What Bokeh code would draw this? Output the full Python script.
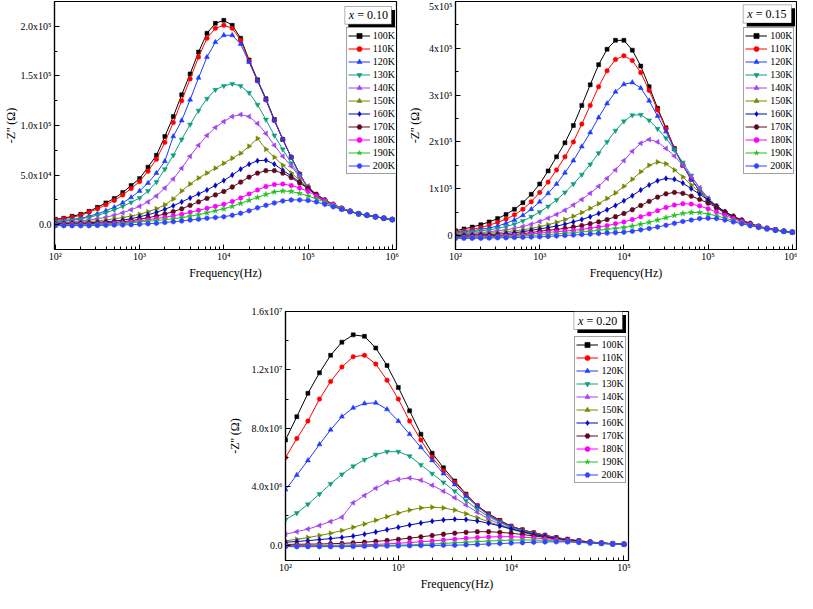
from bokeh.plotting import figure
from bokeh.models import (FixedTicker, Legend, LegendItem, Label, BoxAnnotation,
                          Range1d, Spacer, ColumnDataSource)
from bokeh.layouts import column, row
from bokeh.embed import file_html
from bokeh.resources import INLINE

FONT = "Liberation Serif"

# ---------------- data ----------------
FREQ = [100, 126, 158, 200, 251, 316, 398, 501, 631, 794,
        1000, 1259, 1585, 1995, 2512, 3162, 3981, 5012, 6310, 7943,
        10000, 12589, 15849, 19953, 25119, 31623, 39811, 50119, 63096, 79433,
        100000, 125893, 158489, 199526, 251189, 316228, 398107, 501187, 630957, 794328,
        1000000]
FREQ_C = FREQ[:31]

TEMPS = ["100K", "110K", "120K", "130K", "140K", "150K", "160K", "170K", "180K", "190K", "200K"]
COLORS = ["#000000", "#FF0000", "#1E3CFF", "#0E9E7E", "#A444EE", "#778800",
          "#0008C0", "#5E0A1E", "#FF00FF", "#22C022", "#3344FF"]
MARKERS = ["square", "circle", "triangle", "inverted_triangle", "triangle", "triangle",
           "diamond", "hex", "circle", "star", "hex"]
ANGLES = [0, 0, 0, 0, 1.5708, -1.5708, 0, 0, 0, 0, 0.5236]
SIZES = [4, 4.5, 5, 5, 5, 5, 5.5, 5, 4.5, 6, 5]

# x = 0.10, -Z'' in units of 1e4 Ohm
P1_UNIT = 1e4
P1_100 = [0.55,0.65,0.85,1.05,1.35,1.75,2.2,2.65,3.25,3.95, 4.65,5.8,7.0,8.9,10.9,13.1,15.2,17.4,19.3,20.3, 20.6,20.1,18.8,16.6,14.6,12.7,10.6,8.6,6.8,5.1, 3.7,2.9,2.3,1.9,1.6,1.35,1.1,0.95,0.8,0.65, 0.52]
P1_110 = [0.5,0.6,0.75,0.95,1.25,1.6,2.0,2.45,3.0,3.65, 4.35,5.4,6.6,8.3,10.3,12.5,14.7,16.9,18.8,19.8, 20.1,19.8,18.6,16.5,14.5,12.6,10.5,8.6,6.8,5.1, 3.7,2.9,2.3,1.9,1.6,1.35,1.1,0.95,0.8,0.65, 0.52]
P1_120 = [0.35,0.42,0.52,0.65,0.85,1.1,1.4,1.75,2.2,2.75, 3.4,4.2,5.2,6.4,8.9,10.5,12.6,14.8,16.9,18.4, 19.1,19.1,18.2,16.4,14.5,12.6,10.5,8.6,6.8,5.1, 3.7,2.9,2.3,1.9,1.6,1.35,1.1,0.95,0.8,0.65, 0.52]
P1_130 = [0.3,0.36,0.45,0.58,0.75,0.95,1.2,1.5,1.85,2.25, 2.7,3.4,4.3,5.6,7.0,8.6,10.1,11.5,12.7,13.6, 14.0,14.2,14.0,13.3,12.1,10.6,9.0,7.6,6.2,4.9, 3.8,2.95,2.35,1.9,1.6,1.35,1.1,0.95,0.8,0.65, 0.52]
P1_140 = [0.2,0.24,0.3,0.38,0.48,0.6,0.75,0.95,1.2,1.5, 1.85,2.3,2.9,3.7,4.6,5.7,6.9,8.0,9.0,9.8, 10.4,10.9,11.1,10.9,10.2,9.2,8.0,6.9,5.9,4.8, 3.9,3.0,2.4,1.95,1.6,1.35,1.1,0.95,0.8,0.65, 0.52]
P1_150 = [0.15,0.18,0.22,0.27,0.32,0.4,0.48,0.6,0.72,0.88, 1.05,1.3,1.6,2.0,2.6,3.4,4.1,4.7,5.2,5.7, 6.2,6.7,7.2,7.9,8.7,7.6,6.8,6.0,5.2,4.5, 3.8,3.05,2.45,2.0,1.65,1.35,1.1,0.95,0.8,0.65, 0.52]
P1_160 = [0.1,0.12,0.14,0.17,0.2,0.25,0.3,0.37,0.46,0.6, 0.8,1.0,1.25,1.55,1.9,2.3,2.7,3.1,3.5,3.95, 4.45,5.0,5.6,6.1,6.45,6.5,6.1,5.5,4.9,4.3, 3.7,3.05,2.5,2.05,1.65,1.35,1.1,0.95,0.8,0.65, 0.52]
P1_170 = [0.05,0.06,0.07,0.09,0.11,0.14,0.18,0.23,0.3,0.4, 0.55,0.7,0.88,1.08,1.32,1.6,1.95,2.3,2.65,3.0, 3.35,3.8,4.3,4.8,5.2,5.45,5.45,5.2,4.75,4.2, 3.65,3.05,2.5,2.05,1.65,1.35,1.1,0.95,0.8,0.65, 0.52]
P1_180 = [0.0,0.0,0.01,0.02,0.03,0.05,0.08,0.12,0.18,0.28, 0.4,0.5,0.62,0.75,0.9,1.05,1.25,1.45,1.65,1.85, 2.05,2.35,2.7,3.1,3.5,3.85,4.05,4.1,3.95,3.7, 3.35,2.9,2.45,2.05,1.65,1.35,1.1,0.95,0.8,0.65, 0.52]
P1_190 = [-0.05,-0.05,-0.04,-0.03,-0.02,0.0,0.02,0.05,0.1,0.18, 0.28,0.35,0.42,0.5,0.6,0.7,0.85,1.0,1.2,1.4, 1.6,1.85,2.15,2.45,2.75,3.05,3.3,3.4,3.35,3.15, 2.9,2.6,2.25,1.95,1.6,1.35,1.1,0.95,0.8,0.65, 0.52]
P1_200 = [-0.1,-0.1,-0.1,-0.1,-0.1,-0.08,-0.06,-0.04,-0.02,0.0, 0.05,0.1,0.15,0.22,0.3,0.38,0.47,0.56,0.65,0.72, 0.8,0.95,1.15,1.4,1.7,1.95,2.2,2.4,2.5,2.5, 2.45,2.3,2.05,1.8,1.55,1.3,1.1,0.95,0.8,0.65, 0.5]

# x = 0.15, -Z'' in units of 1e5 Ohm
P2_UNIT = 1e5
P2_100 = [0.1,0.14,0.18,0.23,0.29,0.36,0.45,0.56,0.7,0.88, 1.1,1.38,1.68,1.98,2.35,2.78,3.22,3.65,3.98,4.17, 4.17,3.96,3.62,3.18,2.72,2.3,1.86,1.5,1.2,0.95, 0.75,0.6,0.48,0.38,0.3,0.24,0.19,0.15,0.12,0.09, 0.07]
P2_110 = [0.08,0.1,0.13,0.17,0.22,0.28,0.35,0.44,0.56,0.72, 0.92,1.14,1.4,1.68,2.0,2.38,2.78,3.18,3.52,3.76, 3.84,3.74,3.48,3.1,2.68,2.28,1.86,1.5,1.2,0.95, 0.75,0.6,0.48,0.38,0.3,0.24,0.19,0.15,0.12,0.09, 0.07]
P2_120 = [0.06,0.08,0.1,0.13,0.16,0.2,0.26,0.33,0.43,0.56, 0.72,0.9,1.1,1.34,1.6,1.9,2.2,2.52,2.82,3.07, 3.23,3.27,3.15,2.88,2.55,2.22,1.84,1.5,1.2,0.95, 0.75,0.6,0.48,0.38,0.3,0.24,0.19,0.15,0.12,0.09, 0.07]
P2_130 = [0.05,0.06,0.08,0.1,0.12,0.15,0.19,0.24,0.31,0.4, 0.5,0.62,0.76,0.92,1.1,1.3,1.52,1.76,2.0,2.24, 2.44,2.57,2.58,2.46,2.28,2.08,1.83,1.56,1.28,1.0, 0.78,0.62,0.49,0.39,0.31,0.24,0.19,0.15,0.12,0.09, 0.07]
P2_140 = [0.03,0.04,0.05,0.06,0.08,0.1,0.12,0.15,0.19,0.24, 0.3,0.37,0.45,0.54,0.65,0.77,0.9,1.05,1.22,1.4, 1.6,1.8,1.97,2.05,2.0,1.86,1.7,1.5,1.26,1.02, 0.8,0.63,0.5,0.4,0.31,0.24,0.19,0.15,0.12,0.09, 0.07]
P2_150 = [0.02,0.025,0.03,0.04,0.05,0.06,0.08,0.1,0.12,0.15, 0.19,0.23,0.28,0.34,0.41,0.49,0.58,0.68,0.79,0.91, 1.05,1.2,1.36,1.5,1.57,1.53,1.4,1.25,1.08,0.92, 0.77,0.63,0.5,0.4,0.31,0.24,0.19,0.15,0.12,0.09, 0.07]
P2_160 = [0.0,0.005,0.01,0.015,0.02,0.03,0.04,0.06,0.08,0.11, 0.14,0.17,0.2,0.24,0.29,0.34,0.4,0.47,0.55,0.64, 0.74,0.85,0.97,1.08,1.17,1.22,1.2,1.12,1.0,0.88, 0.76,0.63,0.51,0.41,0.32,0.25,0.19,0.15,0.12,0.09, 0.07]
P2_170 = [-0.02,-0.02,-0.015,-0.01,-0.005,0.0,0.01,0.02,0.04,0.06, 0.09,0.11,0.13,0.15,0.18,0.21,0.25,0.29,0.34,0.4, 0.47,0.55,0.64,0.73,0.82,0.89,0.92,0.9,0.84,0.77, 0.69,0.6,0.5,0.41,0.33,0.26,0.2,0.15,0.12,0.09, 0.07]
P2_180 = [-0.04,-0.04,-0.035,-0.03,-0.025,-0.02,-0.01,0.0,0.01,0.03, 0.05,0.065,0.08,0.095,0.11,0.13,0.155,0.18,0.21,0.25, 0.29,0.34,0.4,0.46,0.53,0.6,0.65,0.68,0.67,0.63, 0.57,0.5,0.43,0.36,0.3,0.24,0.19,0.15,0.12,0.09, 0.07]
P2_190 = [-0.05,-0.05,-0.05,-0.045,-0.04,-0.035,-0.03,-0.02,-0.01,0.0, 0.01,0.02,0.03,0.045,0.06,0.075,0.09,0.11,0.13,0.15, 0.17,0.2,0.24,0.28,0.33,0.38,0.43,0.47,0.49,0.49, 0.46,0.42,0.37,0.32,0.27,0.22,0.18,0.14,0.11,0.09, 0.07]
P2_200 = [-0.06,-0.06,-0.06,-0.06,-0.055,-0.05,-0.05,-0.045,-0.04,-0.035, -0.03,-0.02,-0.01,0.0,0.01,0.02,0.03,0.04,0.05,0.06, 0.07,0.09,0.12,0.15,0.18,0.22,0.26,0.3,0.33,0.36, 0.37,0.36,0.33,0.29,0.25,0.21,0.17,0.14,0.11,0.09, 0.07]

# x = 0.20, -Z'' in units of 1e6 Ohm
P3_UNIT = 1e6
P3_100 = [7.2,8.8,10.4,11.8,13.0,13.9,14.4,14.3,13.5,12.3, 10.8,9.2,7.6,6.3,5.3,4.4,3.5,2.7,2.15,1.7, 1.3,1.05,0.85,0.68,0.52,0.4,0.3,0.22,0.15,0.1, 0.07]
P3_110 = [6.0,7.3,8.5,10.0,11.2,12.2,12.9,13.0,12.4,11.3, 10.0,8.5,7.2,6.0,5.1,4.3,3.45,2.7,2.1,1.65, 1.3,1.05,0.85,0.68,0.52,0.4,0.3,0.22,0.15,0.1, 0.07]
P3_120 = [3.8,4.8,5.8,6.9,7.9,8.8,9.4,9.7,9.75,9.3, 8.5,7.6,6.7,5.8,4.9,4.15,3.35,2.65,2.05,1.6, 1.25,1.0,0.8,0.65,0.5,0.38,0.29,0.21,0.15,0.1, 0.07]
P3_130 = [1.75,2.2,2.8,3.5,4.2,4.85,5.4,5.85,6.2,6.4, 6.4,6.1,5.5,4.9,4.3,3.7,3.05,2.45,1.95,1.55, 1.2,0.97,0.78,0.62,0.49,0.37,0.28,0.2,0.14,0.1, 0.07]
P3_140 = [0.75,0.92,1.1,1.35,1.62,1.92,2.9,3.4,3.9,4.3, 4.5,4.6,4.45,4.1,3.7,3.25,2.75,2.25,1.8,1.42, 1.12,0.9,0.72,0.58,0.46,0.35,0.27,0.2,0.14,0.1, 0.07]
P3_150 = [0.3,0.4,0.52,0.66,0.82,1.0,1.22,1.45,1.7,1.95, 2.2,2.4,2.55,2.6,2.55,2.4,2.15,1.88,1.6,1.32, 1.08,0.88,0.7,0.56,0.44,0.34,0.26,0.19,0.14,0.1, 0.07]
P3_160 = [0.2,0.25,0.31,0.38,0.45,0.53,0.62,0.75,0.9,1.06, 1.22,1.38,1.52,1.64,1.73,1.77,1.75,1.66,1.5,1.32, 1.12,0.92,0.74,0.59,0.46,0.35,0.27,0.2,0.14,0.1, 0.07]
P3_170 = [0.05,0.06,0.07,0.08,0.1,0.12,0.16,0.2,0.26,0.32, 0.4,0.48,0.57,0.66,0.75,0.82,0.88,0.92,0.92,0.88, 0.82,0.73,0.63,0.53,0.43,0.34,0.26,0.19,0.13,0.09, 0.06]
P3_180 = [-0.03,-0.03,-0.02,-0.02,-0.01,0.0,0.01,0.03,0.05,0.09, 0.13,0.18,0.23,0.29,0.35,0.41,0.47,0.52,0.56,0.58, 0.58,0.55,0.5,0.44,0.37,0.3,0.23,0.17,0.12,0.08, 0.06]
P3_190 = [-0.06,-0.06,-0.06,-0.05,-0.05,-0.04,-0.04,-0.03,-0.02,-0.01, 0.0,0.02,0.05,0.08,0.12,0.16,0.2,0.24,0.28,0.31, 0.34,0.35,0.35,0.33,0.29,0.25,0.2,0.15,0.11,0.08, 0.05]
P3_200 = [-0.1,-0.1,-0.1,-0.1,-0.1,-0.1,-0.09,-0.08,-0.07,-0.06, -0.05,-0.04,-0.03,-0.02,-0.01,0.0,0.02,0.05,0.08,0.11, 0.14,0.17,0.2,0.22,0.23,0.22,0.19,0.15,0.11,0.08, 0.05]

P1_SERIES = [P1_100, P1_110, P1_120, P1_130, P1_140, P1_150, P1_160, P1_170, P1_180, P1_190, P1_200]
P2_SERIES = [P2_100, P2_110, P2_120, P2_130, P2_140, P2_150, P2_160, P2_170, P2_180, P2_190, P2_200]
P3_SERIES = [P3_100, P3_110, P3_120, P3_130, P3_140, P3_150, P3_160, P3_170, P3_180, P3_190, P3_200]

P1_YTICKS = [0, 5e4, 1e5, 1.5e5, 2e5]
P1_YLABELS = ["0.0", "5.0x10\u2074", "1.0x10\u2075", "1.5x10\u2075", "2.0x10\u2075"]
P2_YTICKS = [0, 1e5, 2e5, 3e5, 4e5, 5e5]
P2_YLABELS = ["0", "1x10\u2075", "2x10\u2075", "3x10\u2075", "4x10\u2075", "5x10\u2075"]
P3_YTICKS = [0, 4e6, 8e6, 1.2e7, 1.6e7]
P3_YLABELS = ["0.0", "4.0x10\u2076", "8.0x10\u2076", "1.2x10\u2077", "1.6x10\u2077"]
SUP = {2: "\u00b2", 3: "\u00b3", 4: "\u2074", 5: "\u2075", 6: "\u2076"}


def panel(freq, series, unit, xr, yr, yticks, ylabels, ydelta, decades, tag,
          width, height, mb, box, leg, ylab_standoff):
    fl, fr, ft, fb = mb
    p = figure(width=width, height=height, x_axis_type="log",
               x_range=Range1d(*xr), y_range=Range1d(*yr),
               output_backend="svg", toolbar_location=None,
               min_border_left=fl, min_border_right=fr,
               min_border_top=ft, min_border_bottom=fb)
    p.xgrid.visible = False
    p.ygrid.visible = False
    p.outline_line_color = "black"
    p.outline_line_width = 1.2
    p.background_fill_color = "white"
    p.border_fill_color = "white"

    xt = [10.0 ** d for d in decades]
    xminor = [m * 10.0 ** d for d in decades[:-1] for m in range(2, 10)]
    p.xaxis.ticker = FixedTicker(ticks=xt, minor_ticks=xminor)
    p.xaxis.major_label_overrides = {10.0 ** d: "10" + SUP[d] for d in decades}
    ymin = [t + ydelta / 2 for t in [yticks[0] - ydelta] + yticks]
    p.yaxis.ticker = FixedTicker(ticks=yticks, minor_ticks=ymin)
    p.yaxis.major_label_overrides = dict(zip(yticks, ylabels))

    for ax in (p.xaxis[0], p.yaxis[0]):
        ax.major_tick_in = 5
        ax.major_tick_out = 0
        ax.minor_tick_in = 3
        ax.minor_tick_out = 0
        ax.axis_line_color = "black"
        ax.axis_line_width = 1.2
        ax.major_tick_line_color = "black"
        ax.minor_tick_line_color = "black"
        ax.major_label_text_font = FONT
        ax.major_label_text_font_size = "10px"
        ax.major_label_text_color = "black"
        ax.axis_label_text_font = FONT
        ax.axis_label_text_font_size = "12px"
        ax.axis_label_text_font_style = "normal"
        ax.axis_label_text_color = "black"
    p.xaxis.axis_label = "Frequency(Hz)"
    p.yaxis.axis_label = "-Z'' (\u03a9)"
    p.xaxis.major_label_standoff = 1
    p.xaxis.axis_label_standoff = 1
    p.yaxis.major_label_standoff = 3
    p.yaxis.axis_label_standoff = ylab_standoff

    items = []
    for i, vals in enumerate(series):
        src = ColumnDataSource(dict(x=freq, y=[v * unit for v in vals]))
        c = COLORS[i]
        ln = p.line("x", "y", source=src, line_color=c, line_width=1)
        sc = p.scatter("x", "y", source=src, marker=MARKERS[i], size=SIZES[i],
                       angle=ANGLES[i], fill_color=c, line_color=c, line_width=0.5)
        items.append(LegendItem(label=TEMPS[i], renderers=[ln, sc]))

    legend = Legend(items=items, location=leg)
    legend.border_line_color = "#444444"
    legend.border_line_width = 1
    legend.background_fill_color = "white"
    legend.background_fill_alpha = 1
    legend.label_text_font = FONT
    legend.label_text_font_size = "10px"
    legend.label_text_color = "black"
    legend.glyph_width = 22
    legend.glyph_height = 13
    legend.label_height = 13
    legend.label_standoff = 3
    legend.spacing = 0
    legend.padding = 1
    legend.margin = 0
    p.add_layout(legend)

    bl, br, bb, bt = box
    sh = 3.5
    p.add_layout(BoxAnnotation(left=bl + sh, right=br + sh, bottom=bb - sh, top=bt - sh,
                               left_units="screen", right_units="screen",
                               bottom_units="screen", top_units="screen",
                               fill_color="black", fill_alpha=1, line_alpha=0))
    p.add_layout(BoxAnnotation(left=bl, right=br, bottom=bb, top=bt,
                               left_units="screen", right_units="screen",
                               bottom_units="screen", top_units="screen",
                               fill_color="white", fill_alpha=1,
                               line_color="black", line_width=1))
    ym = (bb + bt) / 2
    p.add_layout(Label(x=bl + 4, y=ym, x_units="screen", y_units="screen", text="x",
                       text_font=FONT, text_font_size="12px", text_font_style="italic",
                       text_baseline="middle", text_align="left", text_color="black"))
    p.add_layout(Label(x=bl + 12.5, y=ym, x_units="screen", y_units="screen",
                       text="= " + tag, text_font=FONT, text_font_size="12px",
                       text_font_style="normal",
                       text_baseline="middle", text_align="left", text_color="black"))
    return p


p1 = panel(FREQ, P1_SERIES, P1_UNIT, (10 ** 1.99, 10 ** 6.05), (-2.5e4, 2.25e5),
           P1_YTICKS, P1_YLABELS, 5e4, [2, 3, 4, 5, 6], "0.10",
           405, 282, (46, 9, 1, 27), (290.3, 337, 225.3, 243), (291.7, 74.6), 0)
p2 = panel(FREQ, P2_SERIES, P2_UNIT, (10 ** 2.0, 10 ** 6.05), (-3e4, 5e5),
           P2_YTICKS, P2_YLABELS, 1e5, [2, 3, 4, 5, 6], "0.15",
           392, 282, (45, 1, 1, 27), (287.7, 336, 226.4, 244.7), (288.2, 74.7), 4)
p3 = panel(FREQ_C, P3_SERIES, P3_UNIT, (10 ** 2.0, 10 ** 5.04), (-1.05e6, 1.6e7),
           P3_YTICKS, P3_YLABELS, 4e6, [2, 3, 4, 5], "0.20",
           409, 311, (55, 5, 29, 27), (288.4, 337, 231, 249), (289.4, 76.6), 7)

layout = column(row(p1, p2), row(Spacer(width=224, height=311), p3))
open("out.html", "w").write(file_html(layout, INLINE))
